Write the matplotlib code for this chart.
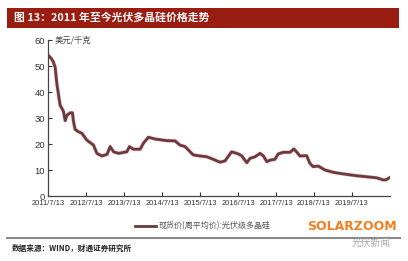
import matplotlib
matplotlib.use("Agg")
import matplotlib.pyplot as plt
import pandas as pd
from matplotlib.patches import Rectangle
from matplotlib.lines import Line2D

plt.rcParams['font.family'] = ['Noto Sans CJK SC', 'DejaVu Sans']

dates = ["2011-07-13", "2011-08-12", "2011-09-03", "2011-09-20", "2011-10-05", "2011-11-06",
         "2011-12-09", "2011-12-25", "2012-01-10", "2012-02-11", "2012-03-04", "2012-03-14",
         "2012-03-30", "2012-05-01", "2012-06-03", "2012-07-20", "2012-09-22", "2012-10-25",
         "2012-12-12", "2013-01-30", "2013-03-02", "2013-04-03", "2013-05-21", "2013-08-09",
         "2013-09-03", "2013-10-10", "2013-12-15", "2014-01-15", "2014-03-04", "2014-05-08",
         "2014-08-27", "2014-11-15", "2015-01-01", "2015-02-20", "2015-05-09", "2015-07-13",
         "2015-09-16", "2015-11-18", "2016-01-22", "2016-03-10", "2016-05-12", "2016-07-16",
         "2016-08-18", "2016-10-05", "2016-11-06", "2016-12-24", "2017-02-10", "2017-03-14",
         "2017-04-16", "2017-05-16", "2017-07-02", "2017-08-04", "2017-09-21", "2017-11-25",
         "2018-01-01", "2018-01-26", "2018-02-28", "2018-05-04", "2018-06-03", "2018-07-05",
         "2018-08-23", "2018-10-27", "2019-01-15", "2019-04-20", "2019-08-26", "2019-12-01",
         "2020-03-06", "2020-05-08", "2020-06-03", "2020-07-07"]
prices = [54.2, 53.0, 51.5, 49.5, 43.5, 35.0,
          32.5, 29.0, 31.0, 32.0, 32.0, 28.6,
          25.6, 24.7, 24.1, 21.5, 19.6, 16.4,
          15.4, 16.0, 19.0, 17.0, 16.4, 17.0,
          19.0, 18.0, 18.0, 20.3, 22.6, 21.9,
          21.3, 21.2, 19.6, 19.0, 15.8, 15.4,
          15.1, 14.1, 13.0, 13.5, 17.0, 16.2,
          15.4, 12.8, 14.5, 15.1, 16.4, 15.4,
          13.2, 13.8, 14.1, 16.2, 16.8, 16.8,
          18.1, 17.0, 15.4, 15.5, 12.6, 11.3,
          11.5, 10.0, 9.1, 8.5, 7.8, 7.4,
          7.0, 6.2, 6.2, 7.0]
tick_labels = ["2011/7/13", "2012/7/13", "2013/7/13", "2014/7/13", "2015/7/13",
               "2016/7/13", "2017/7/13", "2018/7/13", "2019/7/13"]
yticks = [0, 10, 20, 30, 40, 50, 60]

title = "图 13：2011 年至今光伏多晶硅价格走势"
unit = "美元/千克"
legend_label = "现货价(周平均价):光伏级多晶硅"
source = "数据来源：WIND，财通证券研究所"

W, H = 408, 261
fig = plt.figure(figsize=(W / 100, H / 100), dpi=100)
fig.patch.set_facecolor("white")

ax = fig.add_axes([48 / W, 1 - 196 / H, (390 - 48) / W, (196 - 40) / H])
x = pd.to_datetime(dates)
line_color = "#6a3a40"
ax.plot(x, prices, color="#e8a0a0", lw=3.0, alpha=0.5, solid_joinstyle="round")
ax.plot(x, prices, color=line_color, lw=2.0, solid_joinstyle="round")

tick_dates = pd.to_datetime([t.replace("/", "-") for t in tick_labels], format="%Y-%m-%d")
ax.set_xticks(tick_dates)
ax.set_xticklabels(tick_labels, fontsize=5.4, family=["Liberation Sans", "DejaVu Sans"], color="#222")
ax.set_xlim(pd.Timestamp("2011-07-13"), pd.Timestamp("2020-07-13"))
ax.set_ylim(0, 60)
ax.set_yticks(yticks)
ax.set_yticklabels([str(v) for v in yticks], fontsize=6.8, family=["Liberation Sans", "DejaVu Sans"], color="#222")
ax.tick_params(direction="in", length=3, width=0.8, colors="#333", pad=2)
ax.tick_params(axis="x", pad=3)
for s in ["top", "right"]:
    ax.spines[s].set_visible(False)
for s in ["left", "bottom"]:
    ax.spines[s].set_color("#444")
    ax.spines[s].set_linewidth(0.9)
ax.set_facecolor("none")
ax.text(0.02, 1.0, unit, transform=ax.transAxes, fontsize=6.0, color="#444", va="center", ha="left")

# title banner
fig.patches.append(Rectangle((7 / W, 1 - 28 / H), (399 - 7) / W, (28 - 8) / H,
                             transform=fig.transFigure, facecolor="#9a1d12", edgecolor="none"))
fig.text(14 / W, 1 - 18 / H, title, fontsize=7.8, fontweight="bold", color="white", va="center", ha="left")

# legend
fig.lines.append(Line2D([135 / W, 156 / W], [1 - 226 / H, 1 - 226 / H], transform=fig.transFigure,
                        color=line_color, lw=2.0))
fig.text(159 / W, 1 - 226 / H, legend_label, fontsize=5.8, color="#555", va="center", ha="left")
fig.text(307 / W, 1 - 226 / H, "SOLARZOOM", fontsize=9.0, fontweight="bold", color="#f08020",
         va="center", ha="left", family=["DejaVu Sans"])

# separator and source
fig.lines.append(Line2D([7 / W, 400 / W], [1 - 238 / H, 1 - 238 / H], transform=fig.transFigure,
                        color="#8a8a8a", lw=1.5))
fig.text(12 / W, 1 - 248 / H, source, fontsize=5.5, fontweight="bold", color="#222", va="center", ha="left")
fig.text(352 / W, 1 - 243 / H, "光伏新闻", fontsize=7, color="#aaaaaa", va="center", ha="left")

fig.savefig("out.png", dpi=100, facecolor="white")
